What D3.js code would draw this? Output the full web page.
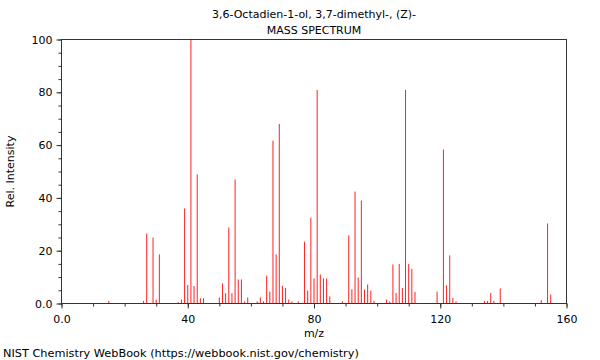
<!DOCTYPE html>
<html>
<head>
<meta charset="utf-8">
<script src="https://cdn.jsdelivr.net/npm/d3@7"></script>
<style>
html,body{margin:0;padding:0;background:#fff;}
svg{display:block;font-family:"DejaVu Sans",sans-serif;}
</style>
</head>
<body>
<svg id="chart" width="600" height="360"></svg>
<script>
const titleLines = ["3,6-Octadien-1-ol, 3,7-dimethyl-, (Z)-", "MASS SPECTRUM"];
const xLabel = "m/z";
const yLabel = "Rel. Intensity";
const footer = "NIST Chemistry WebBook (https://webbook.nist.gov/chemistry)";

const mz = [15,26,27,29,30,31,37,38,39,40,41,42,43,44,45,50,51,52,53,54,55,56,57,58,59,62,63,64,65,66,67,68,69,70,71,72,73,75,77,78,79,80,81,82,83,84,85,89,91,92,93,94,95,96,97,98,99,103,104,105,106,107,108,109,110,111,112,119,121,122,123,124,125,134,135,136,137,139,152,154,155];
const intensity = [1,1,26.5,25,1.5,18.6,0.5,1.5,36,7,100,6.6,48.9,2,2,2.3,7.6,3.9,28.8,3.9,47,9.1,9.1,0.8,2.3,0.8,2.3,0.8,10.6,4.5,61.7,18.6,68,6.7,5.9,1.5,0.8,0.8,23.4,4.9,32.5,9.5,80.9,11,9.5,9.5,2.7,0.8,25.8,5.4,42.4,9.8,39,5.3,7.2,4.9,1,1.5,0.8,14.8,4,15,5.9,80.9,15,13.1,4.4,4.5,58.3,6.9,18.2,2.1,0.8,1,1,4,1,5.7,1.3,30.3,3.4];

const xTicks = [0,40,80,120,160];
const xTickLabels = ["0.0","40","80","120","160"];
const yTicks = [0,20,40,60,80,100];
const yTickLabels = ["0.0","20","40","60","80","100"];

const svg = d3.select("#chart");
const L = 61.5, R = 566.5, T = 39.5, B = 303.5;
const x = d3.scaleLinear().domain([0,160]).range([L,R]);
const y = d3.scaleLinear().domain([0,100]).range([B,T]);
const axisColor = "#333";

// bars
svg.append("g").selectAll("line").data(mz).join("line")
  .attr("x1", d => x(d)).attr("x2", d => x(d))
  .attr("y1", y(0)).attr("y2", (d,i) => y(intensity[i]))
  .attr("stroke", "#ff2020").attr("stroke-width", 1);

// minor ticks
const xMinor = d3.range(0,161,10);
const yMinor = d3.range(0,101,5);
const xAxisMinor = d3.axisBottom(x).tickValues(xMinor).tickSize(3).tickFormat("");
const yAxisMinor = d3.axisLeft(y).tickValues(yMinor).tickSize(3).tickFormat("");
const xAxis = d3.axisBottom(x).tickValues(xTicks).tickSize(5).tickPadding(7)
  .tickFormat((d,i) => xTickLabels[i]);
const yAxis = d3.axisLeft(y).tickValues(yTicks).tickSize(5).tickPadding(4)
  .tickFormat((d,i) => yTickLabels[i]);

function style(g){
  g.selectAll(".domain").remove();
  g.selectAll(".tick line").attr("stroke", axisColor);
  g.selectAll(".tick text").attr("fill","#000").style("font-size","11px").style("font-family","DejaVu Sans");
}
svg.append("g").attr("transform",`translate(0,${B})`).call(xAxisMinor).call(style);
svg.append("g").attr("transform",`translate(${L},0)`).call(yAxisMinor).call(style);
svg.append("g").attr("transform",`translate(0,${B})`).call(xAxis).call(style);
svg.append("g").attr("transform",`translate(${L},0)`).call(yAxis).call(style);

// frame
svg.append("rect").attr("x",L).attr("y",T).attr("width",R-L).attr("height",B-T)
  .attr("fill","none").attr("stroke",axisColor).attr("stroke-width",1);

// titles
svg.selectAll("text.title").data(titleLines).join("text").attr("class","title")
  .attr("x", (L+R)/2).attr("y",(d,i)=> 18 + i*16)
  .attr("text-anchor","middle").style("font-size","11px").text(d=>d);

svg.append("text").attr("x",(L+R)/2).attr("y",337).attr("text-anchor","middle")
  .style("font-size","11px").text(xLabel);
svg.append("text").attr("transform",`translate(14,${(T+B)/2}) rotate(-90)`)
  .attr("text-anchor","middle").style("font-size","11px").text(yLabel);
svg.append("text").attr("x",3).attr("y",357).style("font-size","11.3px").text(footer);
</script>
</body>
</html>
